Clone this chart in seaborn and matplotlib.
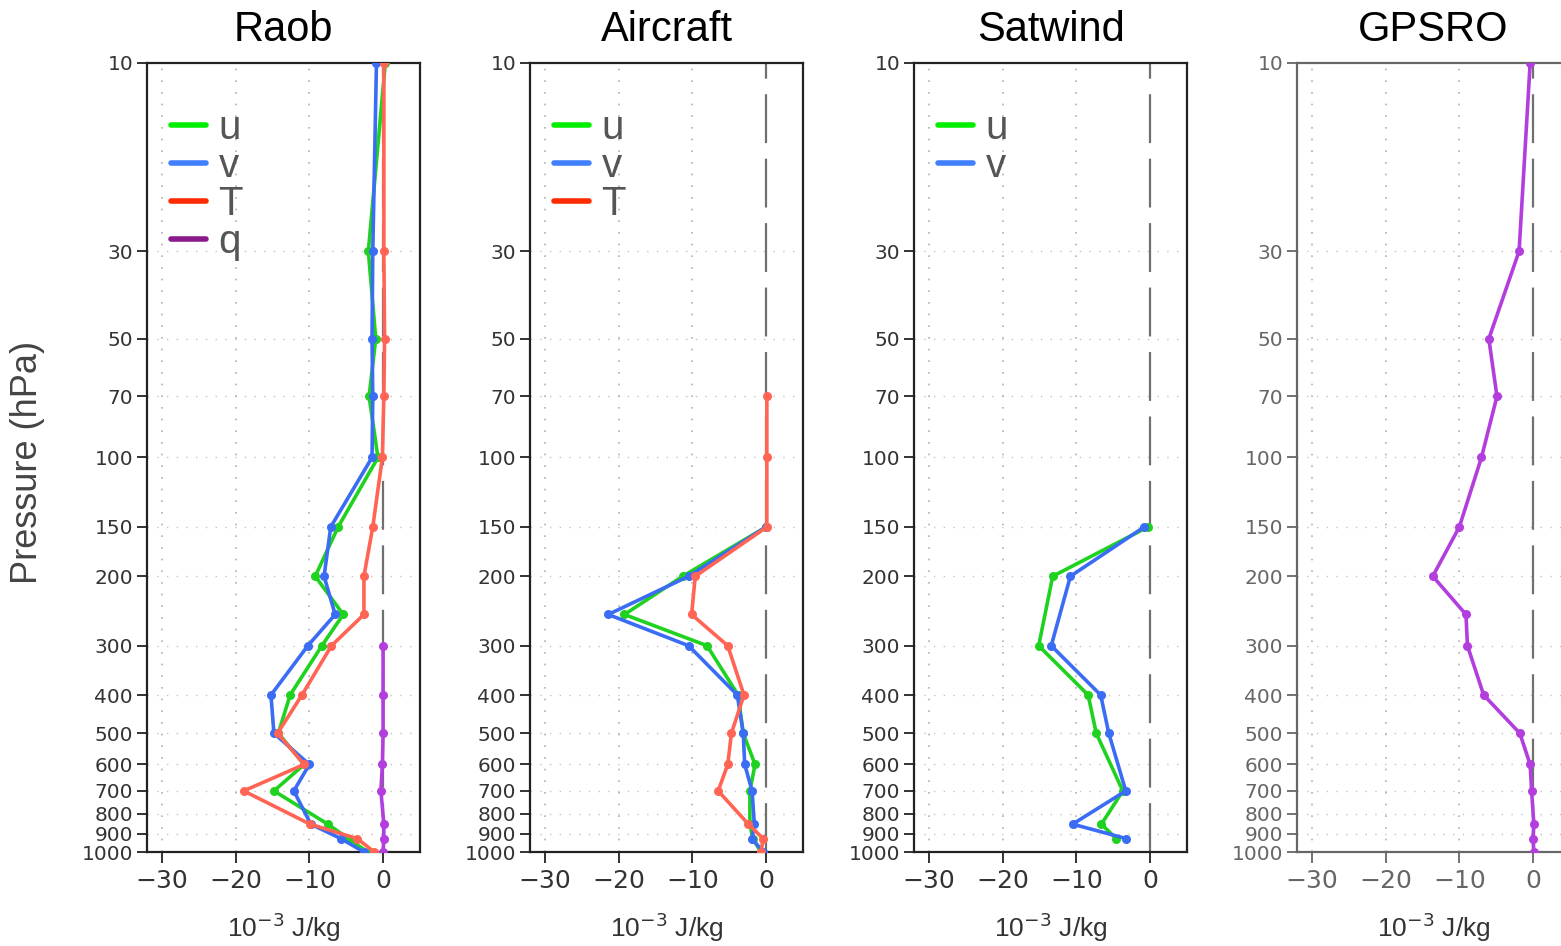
import numpy as np
import pandas as pd
import matplotlib
matplotlib.use("Agg")
import matplotlib.pyplot as plt
from matplotlib.lines import Line2D
from matplotlib.ticker import FixedLocator, NullLocator, FixedFormatter
import seaborn as sns

# Pressure levels (hPa)
levels = [10, 30, 50, 70, 100, 150, 200, 250, 300, 400, 500, 600, 700, 850, 925, 1000]
q_low_levels = [300, 400, 500, 600, 700, 850, 925, 1000]
air_wind_levels = [150, 200, 250, 300, 400, 500, 600, 700, 850, 925, 1000]
air_t_levels = [70, 100, 150, 200, 250, 300, 400, 500, 600, 700, 850, 925, 1000]
sat_levels = [150, 200, 300, 400, 500, 700, 850, 925]

# Observation impact (10^-3 J/kg)
raob_u = [0.3, -2.0, -1.0, -1.9, -0.7, -6.1, -9.2, -5.4, -8.3, -12.6, -14.2, -10.7, -14.8, -7.5, -4.7, -2.1]
raob_v = [-0.9, -1.4, -1.5, -1.4, -1.5, -7.1, -8.0, -6.5, -10.2, -15.2, -14.8, -10.0, -12.1, -9.8, -5.7, -2.6]
raob_t = [0.1, 0.1, 0.2, 0.1, -0.1, -1.4, -2.6, -2.6, -7.0, -11.0, -14.3, -10.7, -18.9, -9.9, -3.5, -1.2]
raob_q = [0.0, 0.0, 0.0, -0.1, -0.3, 0.1, 0.1, 0.0]

air_u = [0.0, -11.3, -19.2, -8.0, -3.8, -3.1, -1.5, -2.2, -2.2, -1.8, -0.7]
air_v = [0.0, -10.5, -21.4, -10.5, -3.9, -3.1, -2.9, -1.9, -1.6, -1.9, -0.4]
air_t = [0.1, 0.1, 0.1, -9.6, -10.1, -5.2, -3.0, -4.7, -5.2, -6.5, -2.4, -0.4, -0.7]

sat_u = [-0.3, -13.2, -15.1, -8.4, -7.3, -3.7, -6.6, -4.6]
sat_v = [-0.8, -10.8, -13.4, -6.7, -5.6, -3.3, -10.5, -3.2]

gps_q = [-0.4, -1.9, -6.0, -4.9, -7.0, -10.0, -13.6, -9.1, -8.9, -6.7, -1.8, -0.4, -0.2, 0.1, 0.0, 0.1]

panel_titles = ["Raob", "Aircraft", "Satwind", "GPSRO"]
ytick_vals = [10, 30, 50, 70, 100, 150, 200, 300, 400, 500, 600, 700, 800, 900, 1000]
xtick_vals = [-30, -20, -10, 0]

line_colors = {"u": "#1fd21f", "v": "#3a6cf4", "T": "#ff6454", "q": "#b23ede"}
legend_colors = {"u": "#00ee00", "v": "#4080ff", "T": "#ff2a00", "q": "#8a1a8a"}


def frame(pairs):
    rows = []
    for var, lev, vals in pairs:
        for p, x in zip(lev, vals):
            rows.append({"var": var, "p": p, "impact": x})
    return pd.DataFrame(rows)


panels = [
    frame([("u", levels, raob_u), ("v", levels, raob_v), ("T", levels, raob_t), ("q", q_low_levels, raob_q)]),
    frame([("u", air_wind_levels, air_u), ("v", air_wind_levels, air_v), ("T", air_t_levels, air_t)]),
    frame([("u", sat_levels, sat_u), ("v", sat_levels, sat_v)]),
    frame([("q", levels, gps_q)]),
]
legend_vars = [["u", "v", "T", "q"], ["u", "v", "T"], ["u", "v"], []]

sns.set_theme(style="white")
plt.rcParams["font.family"] = ["DejaVu Sans"]

W, H = 1561, 946
fig = plt.figure(figsize=(W / 100, H / 100), dpi=100)

lefts = [147, 530, 914, 1297]
ax_w, ax_top, ax_bot = 273, 63, 852

for i, (df, title) in enumerate(zip(panels, panel_titles)):
    ax = fig.add_axes([lefts[i] / W, (H - ax_bot) / H, ax_w / W, (ax_bot - ax_top) / H])
    dark = "#666666" if i == 3 else "#222222"
    tcol = "#666666" if i == 3 else "#333333"

    ax.set_yscale("log")
    ax.set_ylim(1000, 10)
    ax.set_xlim(-32, 5)

    # background grid
    for yv in ytick_vals[1:-1]:
        ax.axhline(yv, color="#c4c4c4", lw=1.0, ls=(0, (1, 6)), zorder=0)
    for xv in xtick_vals[:-1]:
        ax.axvline(xv, color="#b0b0b0", lw=1.2, ls=(0, (1, 6)), zorder=0)
    ax.axvline(0, color="#707070", lw=1.6, ls=(0, (22, 7)), zorder=1)

    order = [v for v in ["u", "v", "T", "q"] if v in df["var"].unique()]
    sns.lineplot(data=df, x="impact", y="p", hue="var", hue_order=order,
                 palette=line_colors, sort=False, estimator=None, orient="y",
                 marker="o", markersize=6.5, markeredgewidth=0, lw=2.6,
                 legend=False, ax=ax, zorder=3)

    ax.yaxis.set_major_locator(FixedLocator(ytick_vals))
    ax.yaxis.set_major_formatter(FixedFormatter([str(v) for v in ytick_vals]))
    ax.yaxis.set_minor_locator(NullLocator())
    ax.xaxis.set_major_locator(FixedLocator(xtick_vals))
    ax.set_xticklabels(["\u221230", "\u221220", "\u221210", "0"])
    ax.tick_params(axis="y", which="major", direction="out", length=7, width=1.3,
                   color=dark, labelsize=14.5, labelcolor=tcol, pad=3, left=True)
    ax.tick_params(axis="x", which="major", direction="out", length=8, width=1.3,
                   color=dark, labelsize=18, labelcolor=tcol, pad=4, bottom=True)
    for s in ax.spines.values():
        s.set_color(dark)
        s.set_linewidth(1.6)

    ax.set_xlabel("10$^{-3}$ J/kg", fontsize=19, color="#333333", labelpad=13,
                  fontfamily="Liberation Sans")
    ax.set_ylabel("")
    ax.set_title(title, fontsize=30, color="black", pad=16, fontfamily="Liberation Sans")

    if legend_vars[i]:
        handles = [Line2D([0], [0], color=legend_colors[v], lw=4) for v in legend_vars[i]]
        leg = ax.legend(handles, legend_vars[i], loc="upper left", bbox_to_anchor=(0.03, 0.962),
                        frameon=False, handlelength=0.85, handletextpad=0.32,
                        labelspacing=0.0, borderaxespad=0,
                        prop={"family": "Liberation Sans", "size": 29})
        for t in leg.get_texts():
            t.set_color("#555555")

fig.text(28 / W, 1 - 462 / H, "Pressure (hPa)", rotation=90, ha="center", va="center",
         fontsize=26, color="#444444", fontfamily="Liberation Sans")

fig.savefig("out.png", dpi=100)
